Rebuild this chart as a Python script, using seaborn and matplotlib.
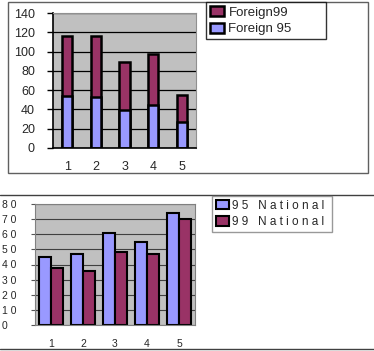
import numpy as np
import pandas as pd
import matplotlib.pyplot as plt
import seaborn as sns
from matplotlib.patches import Rectangle
from matplotlib.lines import Line2D

# data
groups = ["1", "2", "3", "4", "5"]
foreign95 = [54, 53, 39, 45, 27]
foreign99 = [62, 63, 50, 52, 28]
national95 = [45, 47, 61, 55, 74]
national99 = [38, 36, 48, 47, 70]
top_yticks = [0, 20, 40, 60, 80, 100, 120, 140]
bot_yticks = [0, 10, 20, 30, 40, 50, 60, 70, 80]
bot_ylabels = ["0", "1 0", "2 0", "3 0", "4 0", "5 0", "6 0", "7 0", "8 0"]

blue = "#9999FF"
maroon = "#993366"
grey = "#C0C0C0"

sns.set_style("white")
plt.rcParams['font.family'] = ['Liberation Sans', 'DejaVu Sans']

fig = plt.figure(figsize=(3.74, 3.51), dpi=100)
W, H = 374, 351

def fig_box(x0, y0, x1, y1):
    return [x0 / W, 1 - y1 / H, (x1 - x0) / W, (y1 - y0) / H]

# ---------- top chart: stacked foreign ----------
top = pd.DataFrame({"grp": groups, "f95": foreign95,
                    "total": np.array(foreign95) + np.array(foreign99)})
ax1 = fig.add_axes(fig_box(53, 13, 196, 148))
ax1.set_facecolor(grey)
sns.barplot(data=top, x="grp", y="total", color=maroon, width=0.36,
            edgecolor="black", linewidth=1.8, saturation=1, ax=ax1, label="Foreign99")
sns.barplot(data=top, x="grp", y="f95", color=blue, width=0.36,
            edgecolor="black", linewidth=1.8, saturation=1, ax=ax1, label="Foreign 95")
h, l = ax1.get_legend_handles_labels()
if ax1.get_legend() is not None:
    ax1.get_legend().remove()
ax1.set_ylim(0, 140)
ax1.set_yticks(top_yticks)
ax1.set_yticklabels([str(t) for t in top_yticks], fontsize=9)
ax1.set_xlim(-0.5, 4.5)
ax1.set_xticks(np.arange(5))
ax1.set_xticklabels(groups, fontsize=9)
ax1.set_xticks(np.arange(-0.5, 5, 1), minor=True)
ax1.tick_params(axis="x", which="major", length=0, pad=9)
ax1.tick_params(axis="x", which="minor", length=4, width=1, direction="out", color="black")
ax1.tick_params(axis="y", length=4, width=1, direction="out", color="black", pad=9, left=True)
ax1.yaxis.grid(True, color="black", linewidth=0.9)
ax1.set_axisbelow(True)
ax1.set_xlabel("")
ax1.set_ylabel("")
for s in ["top", "right"]:
    ax1.spines[s].set_color("#909090")
for s in ["left", "bottom"]:
    ax1.spines[s].set_color("black")
    ax1.spines[s].set_linewidth(1.2)
fig.legend(h, l, loc="upper left", bbox_to_anchor=(206 / W, 1 - 37 / H, 120 / W, 35 / H),
           mode="expand", fontsize=9.5, frameon=True, fancybox=False, edgecolor="black",
           handlelength=1.1, handleheight=0.8, handletextpad=0.3,
           labelspacing=0.3, borderpad=0.3, borderaxespad=0)

# ---------- bottom chart: grouped national ----------
bot = pd.DataFrame({"grp": groups * 2,
                    "val": national95 + national99,
                    "series": ["9 5   N a t i o n a l"] * 5 + ["9 9   N a t i o n a l"] * 5})
ax2 = fig.add_axes(fig_box(35, 204, 195, 325))
ax2.set_facecolor(grey)
sns.barplot(data=bot, x="grp", y="val", hue="series", palette=[blue, maroon],
            width=0.72, edgecolor="black", linewidth=1.5, saturation=1, ax=ax2)
ax2.set_ylim(0, 80)
ax2.set_yticks(bot_yticks)
ax2.set_yticklabels(bot_ylabels, fontsize=7.5)
ax2.set_xlim(-0.5, 4.5)
ax2.set_xticks(np.arange(5))
ax2.set_xticklabels(groups, fontsize=7.5)
ax2.set_xticks(np.arange(-0.5, 5, 1), minor=True)
ax2.tick_params(axis="x", which="major", length=0, pad=10)
ax2.tick_params(axis="x", which="minor", length=3, width=0.8, direction="out", color="#555555")
ax2.tick_params(axis="y", length=3, width=0.8, direction="out", color="#555555", pad=21, left=True)
for t in ax2.get_yticklabels():
    t.set_horizontalalignment("left")
ax2.yaxis.grid(True, color="#404040", linewidth=0.8)
ax2.set_axisbelow(True)
ax2.set_xlabel("")
ax2.set_ylabel("")
for s in ax2.spines.values():
    s.set_color("#808080")
    s.set_linewidth(0.8)
h2, l2 = ax2.get_legend_handles_labels()
ax2.get_legend().remove()
fig.legend(h2, l2, loc="upper left", bbox_to_anchor=(212 / W, 1 - 228 / H, 120 / W, 32 / H),
           mode="expand", fontsize=8.5, frameon=True, fancybox=False, edgecolor="#808080",
           handlelength=1.1, handleheight=0.9, handletextpad=0.3,
           labelspacing=0.4, borderpad=0.3, borderaxespad=0)

# frames around the pasted charts
fig.add_artist(Rectangle((8 / W, 1 - 173 / H), 360 / W, 171 / H, transform=fig.transFigure,
                         fill=False, edgecolor="#606060", linewidth=1))
fig.add_artist(Line2D([0, 1], [1 - 195 / H] * 2, transform=fig.transFigure,
                      color="#404040", linewidth=1))
fig.add_artist(Line2D([0, 1], [1 - 349 / H] * 2, transform=fig.transFigure,
                      color="#404040", linewidth=1))

fig.savefig("out.png", dpi=100)
